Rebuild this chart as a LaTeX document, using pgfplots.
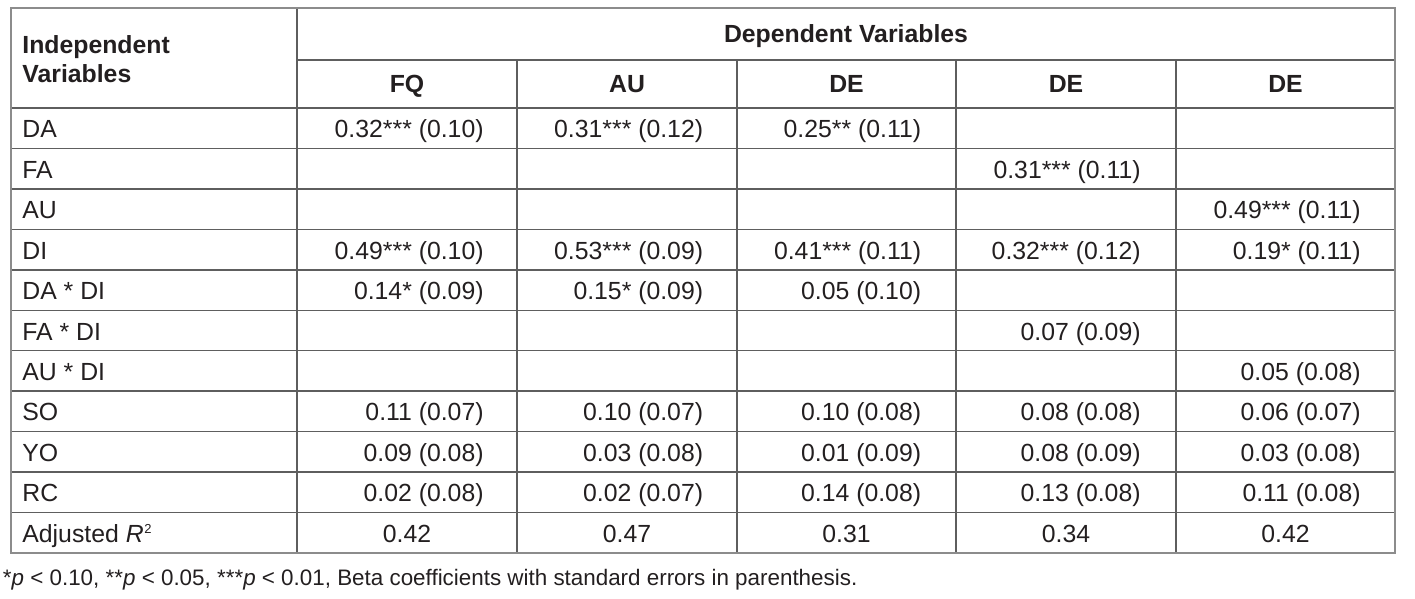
\documentclass[border=0pt]{standalone}
\usepackage{pgfplots}
\pgfplotsset{compat=1.18}
\usepackage{pgfplotstable}
\usepackage{fontspec}
\setmainfont{Liberation Sans}
\definecolor{txt}{HTML}{231F20}
\definecolor{outerc}{HTML}{8C8C8C}
\definecolor{innerc}{HTML}{5E5E5E}
\newcommand\tf{\fontsize{12.4}{14}\selectfont}
\newcommand\ff{\fontsize{11.2}{13}\selectfont}

% right-aligned coefficient cells: x = right edge, y = baseline (pixel units, y down)
\pgfplotstableread[col sep=comma]{
x,y,label
484,137.7,0.32*** (0.10)
484,259.1,0.49*** (0.10)
484,299.5,0.14* (0.09)
484,420.9,0.11 (0.07)
484,461.3,0.09 (0.08)
484,501.8,0.02 (0.08)
703.5,137.7,0.31*** (0.12)
703.5,259.1,0.53*** (0.09)
703.5,299.5,0.15* (0.09)
703.5,420.9,0.10 (0.07)
703.5,461.3,0.03 (0.08)
703.5,501.8,0.02 (0.07)
921.5,137.7,0.25** (0.11)
921.5,259.1,0.41*** (0.11)
921.5,299.5,0.05 (0.10)
921.5,420.9,0.10 (0.08)
921.5,461.3,0.01 (0.09)
921.5,501.8,0.14 (0.08)
1141,178.2,0.31*** (0.11)
1141,259.1,0.32*** (0.12)
1141,340.0,0.07 (0.09)
1141,420.9,0.08 (0.08)
1141,461.3,0.08 (0.09)
1141,501.8,0.13 (0.08)
1361,218.6,0.49*** (0.11)
1361,259.1,0.19* (0.11)
1361,380.4,0.05 (0.08)
1361,420.9,0.06 (0.07)
1361,461.3,0.03 (0.08)
1361,501.8,0.11 (0.08)
}\coefcells

% adjusted R squared, centred in each column
\pgfplotstableread[col sep=comma]{
x,y,label
407,542.2,0.42
627,542.2,0.47
846.5,542.2,0.31
1066,542.2,0.34
1285.5,542.2,0.42
}\rsqcells

\begin{document}
\begin{tikzpicture}
\begin{axis}[
  width=707.5pt, height=299.5pt, scale only axis,
  xmin=0, xmax=1415, ymin=0, ymax=599, y dir=reverse,
  hide axis, clip=false,
]
\path (axis cs:0,0) rectangle (axis cs:1415,599);

% inner grid lines
\pgfplotsinvokeforeach{108,148.45,188.9,229.35,269.8,310.25,350.7,391.15,431.6,472.05,512.5}{
  \draw[innerc, line width=0.7pt] (axis cs:11,#1) -- (axis cs:1395,#1);
}
\pgfplotsinvokeforeach{517,737,956,1176}{
  \draw[innerc, line width=0.7pt] (axis cs:#1,60) -- (axis cs:#1,553);
}
\draw[innerc, line width=0.7pt] (axis cs:297,60) -- (axis cs:1395,60);
\draw[innerc, line width=0.7pt] (axis cs:297,8) -- (axis cs:297,553);
\draw[outerc, line width=1pt] (axis cs:11,8) rectangle (axis cs:1395,553);

% header
\node[anchor=base west, inner sep=0pt, text=txt, font=\tf\bfseries] at (axis cs:22,54) {Independent};
\node[anchor=base west, inner sep=0pt, text=txt, font=\tf\bfseries] at (axis cs:22,83) {Variables};
\node[anchor=base, inner sep=0pt, text=txt, font=\tf\bfseries] at (axis cs:846,43) {Dependent Variables};
\node[anchor=base, inner sep=0pt, text=txt, font=\tf\bfseries] at (axis cs:407,93) {FQ};
\node[anchor=base, inner sep=0pt, text=txt, font=\tf\bfseries] at (axis cs:627,93) {AU};
\node[anchor=base, inner sep=0pt, text=txt, font=\tf\bfseries] at (axis cs:846.5,93) {DE};
\node[anchor=base, inner sep=0pt, text=txt, font=\tf\bfseries] at (axis cs:1066,93) {DE};
\node[anchor=base, inner sep=0pt, text=txt, font=\tf\bfseries] at (axis cs:1285.5,93) {DE};

% row labels
\node[anchor=base west, inner sep=0pt, text=txt, font=\tf] at (axis cs:22,137.7) {DA};
\node[anchor=base west, inner sep=0pt, text=txt, font=\tf] at (axis cs:22,178.2) {FA};
\node[anchor=base west, inner sep=0pt, text=txt, font=\tf] at (axis cs:22,218.6) {AU};
\node[anchor=base west, inner sep=0pt, text=txt, font=\tf] at (axis cs:22,259.1) {DI};
\node[anchor=base west, inner sep=0pt, text=txt, font=\tf] at (axis cs:22,299.5) {DA * DI};
\node[anchor=base west, inner sep=0pt, text=txt, font=\tf] at (axis cs:22,340.0) {FA * DI};
\node[anchor=base west, inner sep=0pt, text=txt, font=\tf] at (axis cs:22,380.4) {AU * DI};
\node[anchor=base west, inner sep=0pt, text=txt, font=\tf] at (axis cs:22,420.9) {SO};
\node[anchor=base west, inner sep=0pt, text=txt, font=\tf] at (axis cs:22,461.3) {YO};
\node[anchor=base west, inner sep=0pt, text=txt, font=\tf] at (axis cs:22,501.8) {RC};
\node[anchor=base west, inner sep=0pt, text=txt, font=\tf] at (axis cs:22,542.2) {Adjusted \textit{R}\kern0.3pt\raisebox{4.3pt}{\fontsize{6.5}{7}\selectfont 2}};

% coefficient cells
\addplot[draw=none, mark=none, point meta=explicit symbolic, nodes near coords,
  every node near coord/.append style={anchor=base east, inner sep=0pt, font=\tf, text=txt}]
  table[x=x, y=y, meta=label] {\coefcells};

\addplot[draw=none, mark=none, point meta=explicit symbolic, nodes near coords,
  every node near coord/.append style={anchor=base, inner sep=0pt, font=\tf, text=txt}]
  table[x=x, y=y, meta=label] {\rsqcells};

% footnote
\node[anchor=base west, inner sep=0pt, text=txt, font=\ff] at (axis cs:2.5,585)
  {*\textit{p} < 0.10, **\textit{p} < 0.05, ***\textit{p} < 0.01, Beta coefficients with standard errors in parenthesis.};
\end{axis}
\end{tikzpicture}
\end{document}
